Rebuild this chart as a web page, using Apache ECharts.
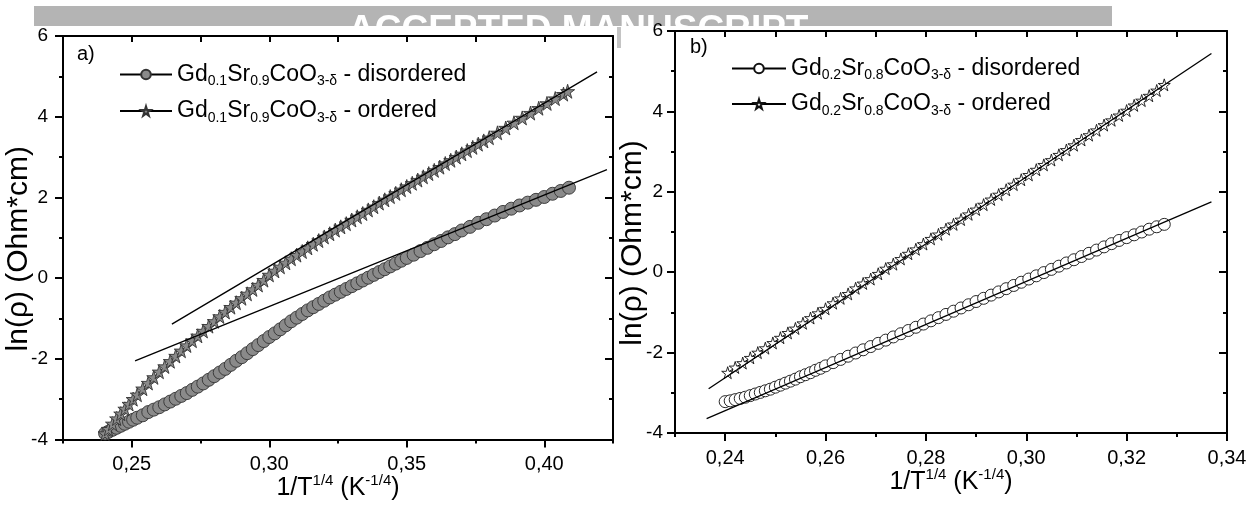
<!DOCTYPE html>
<html>
<head>
<meta charset="utf-8">
<script src="https://cdn.jsdelivr.net/npm/echarts@6/dist/echarts.min.js"></script>
<style>
  html, body { margin: 0; padding: 0; background: #fff; }
  #chart { width: 1251px; height: 506px; }
</style>
</head>
<body>
<div id="chart"></div>
<script>
// ---- panel a) Gd0.1Sr0.9CoO3-δ : ln(rho) vs T^-1/4 ----
const disorderedA = [
  [0.2403,-3.85],[0.2415,-3.81],[0.2430,-3.76],[0.2445,-3.71],[0.2460,-3.66],[0.2475,-3.61],
  [0.2490,-3.56],[0.2505,-3.51],[0.2520,-3.46],[0.2540,-3.40],[0.2560,-3.32],[0.2580,-3.26],
  [0.2600,-3.20],[0.2620,-3.13],[0.2640,-3.06],[0.2660,-2.99],[0.2680,-2.92],[0.2700,-2.85],
  [0.2720,-2.77],[0.2740,-2.69],[0.2760,-2.61],[0.2780,-2.52],[0.2800,-2.43],[0.2820,-2.34],
  [0.2840,-2.25],[0.2860,-2.15],[0.2880,-2.05],[0.2900,-1.96],[0.2920,-1.86],[0.2940,-1.76],
  [0.2960,-1.66],[0.2980,-1.56],[0.3000,-1.46],[0.3020,-1.37],[0.3040,-1.27],[0.3060,-1.17],
  [0.3080,-1.07],[0.3100,-0.98],[0.3120,-0.89],[0.3140,-0.80],[0.3160,-0.72],[0.3180,-0.64],
  [0.3200,-0.56],[0.3220,-0.48],[0.3240,-0.41],[0.3260,-0.34],[0.3280,-0.27],[0.3300,-0.20],
  [0.3320,-0.13],[0.3340,-0.06],[0.3360,0.01],[0.3380,0.08],[0.3400,0.15],[0.3420,0.22],
  [0.3440,0.29],[0.3460,0.36],[0.3480,0.43],[0.3500,0.50],[0.3525,0.58],[0.3550,0.67],
  [0.3575,0.75],[0.3600,0.84],[0.3625,0.92],[0.3650,1.01],[0.3675,1.09],[0.3700,1.18],
  [0.3730,1.27],[0.3760,1.37],[0.3790,1.46],[0.3820,1.55],[0.3850,1.64],[0.3880,1.72],
  [0.3910,1.80],[0.3940,1.87],[0.3970,1.94],[0.4000,2.01],[0.4030,2.09],[0.4060,2.16],
  [0.4090,2.24]
];
const orderedA = [
  [0.2403,-3.85],[0.2415,-3.74],[0.2430,-3.61],[0.2445,-3.48],[0.2460,-3.36],[0.2475,-3.24],
  [0.2490,-3.12],[0.2505,-3.00],[0.2520,-2.89],[0.2540,-2.74],[0.2560,-2.60],[0.2580,-2.46],
  [0.2600,-2.32],[0.2620,-2.19],[0.2640,-2.06],[0.2660,-1.93],[0.2680,-1.80],[0.2700,-1.67],
  [0.2720,-1.55],[0.2740,-1.43],[0.2760,-1.31],[0.2780,-1.19],[0.2800,-1.07],[0.2820,-0.95],
  [0.2840,-0.84],[0.2860,-0.72],[0.2880,-0.61],[0.2900,-0.50],[0.2920,-0.39],[0.2940,-0.28],
  [0.2960,-0.17],[0.2980,-0.05],[0.3000,0.08],[0.3020,0.18],[0.3040,0.28],[0.3060,0.38],
  [0.3080,0.48],[0.3100,0.57],[0.3120,0.66],[0.3140,0.75],[0.3160,0.84],[0.3180,0.93],
  [0.3200,1.02],[0.3220,1.10],[0.3240,1.19],[0.3260,1.27],[0.3280,1.35],[0.3300,1.44],
  [0.3320,1.52],[0.3340,1.60],[0.3360,1.69],[0.3380,1.77],[0.3400,1.86],[0.3420,1.94],
  [0.3440,2.02],[0.3460,2.10],[0.3480,2.19],[0.3500,2.27],[0.3520,2.35],[0.3540,2.43],
  [0.3560,2.51],[0.3580,2.59],[0.3600,2.67],[0.3620,2.75],[0.3640,2.84],[0.3660,2.92],
  [0.3680,3.00],[0.3700,3.08],[0.3720,3.16],[0.3740,3.24],[0.3760,3.32],[0.3780,3.40],
  [0.3800,3.48],[0.3830,3.60],[0.3860,3.72],[0.3890,3.85],[0.3920,3.97],[0.3950,4.09],
  [0.3980,4.21],[0.4010,4.33],[0.4040,4.45],[0.4070,4.56],[0.4085,4.63]
];
// straight-line fits (end points)
const fitDisorderedA = [[0.2512,-2.05],[0.4228,2.69]];
const fitOrderedA    = [[0.2646,-1.14],[0.4192,5.11]];

// ---- panel b) Gd0.2Sr0.8CoO3-δ ----
const disorderedB = [
  [0.2400,-3.22],[0.2410,-3.20],[0.2420,-3.17],[0.2430,-3.14],[0.2440,-3.11],[0.2450,-3.07],
  [0.2460,-3.03],[0.2470,-2.99],[0.2480,-2.95],[0.2490,-2.91],[0.2500,-2.86],[0.2510,-2.81],
  [0.2520,-2.76],[0.2530,-2.71],[0.2540,-2.66],[0.2550,-2.60],[0.2560,-2.55],[0.2570,-2.50],
  [0.2580,-2.44],[0.2590,-2.39],[0.2600,-2.33],[0.2615,-2.25],[0.2630,-2.17],[0.2645,-2.09],
  [0.2660,-2.01],[0.2675,-1.93],[0.2690,-1.85],[0.2705,-1.77],[0.2720,-1.69],[0.2735,-1.61],
  [0.2750,-1.53],[0.2765,-1.45],[0.2780,-1.37],[0.2795,-1.29],[0.2810,-1.21],[0.2825,-1.13],
  [0.2840,-1.05],[0.2855,-0.97],[0.2870,-0.89],[0.2885,-0.81],[0.2900,-0.73],[0.2915,-0.65],
  [0.2930,-0.57],[0.2945,-0.49],[0.2960,-0.41],[0.2975,-0.33],[0.2990,-0.25],[0.3005,-0.17],
  [0.3020,-0.09],[0.3035,-0.01],[0.3050,0.07],[0.3065,0.15],[0.3080,0.23],[0.3095,0.31],
  [0.3110,0.39],[0.3125,0.47],[0.3140,0.55],[0.3155,0.63],[0.3170,0.71],[0.3185,0.79],
  [0.3200,0.86],[0.3215,0.93],[0.3230,1.00],[0.3245,1.07],[0.3260,1.13],[0.3275,1.19]
];
const orderedB = [
  [0.2405,-2.50],[0.2420,-2.37],[0.2435,-2.26],[0.2450,-2.13],[0.2465,-2.00],[0.2480,-1.89],
  [0.2495,-1.76],[0.2510,-1.63],[0.2525,-1.51],[0.2540,-1.40],[0.2555,-1.27],[0.2570,-1.14],
  [0.2585,-1.02],[0.2600,-0.91],[0.2615,-0.77],[0.2630,-0.65],[0.2645,-0.54],[0.2660,-0.40],
  [0.2675,-0.28],[0.2690,-0.17],[0.2705,-0.04],[0.2720,0.09],[0.2735,0.20],[0.2750,0.33],
  [0.2765,0.46],[0.2780,0.57],[0.2795,0.70],[0.2810,0.83],[0.2825,0.94],[0.2840,1.07],
  [0.2855,1.19],[0.2870,1.31],[0.2885,1.44],[0.2900,1.56],[0.2915,1.68],[0.2930,1.81],
  [0.2945,1.93],[0.2960,2.05],[0.2975,2.18],[0.2990,2.30],[0.3005,2.42],[0.3020,2.55],
  [0.3035,2.67],[0.3050,2.79],[0.3065,2.92],[0.3080,3.04],[0.3095,3.16],[0.3110,3.29],
  [0.3125,3.41],[0.3140,3.53],[0.3155,3.66],[0.3170,3.78],[0.3185,3.90],[0.3200,4.02],
  [0.3215,4.15],[0.3230,4.27],[0.3245,4.39],[0.3260,4.52],[0.3275,4.66]
];
const fitDisorderedB = [[0.2363,-3.64],[0.3369,1.75]];
const fitOrderedB    = [[0.2367,-2.90],[0.3369,5.44]];

// ---- axis ticks / labels ----
const xMajorA = [0.25, 0.30, 0.35, 0.40];
const xMinorA = [0.225, 0.275, 0.325, 0.375, 0.425];
const xMajorB = [0.24, 0.26, 0.28, 0.30, 0.32, 0.34];
const xMinorB = [0.23, 0.25, 0.27, 0.29, 0.31, 0.33];

// ---- legend texts (main / subscript fragments) ----
const nameDisA = 'Gd0.1Sr0.9CoO3-δ - disordered';
const nameOrdA = 'Gd0.1Sr0.9CoO3-δ - ordered';
const nameDisB = 'Gd0.2Sr0.8CoO3-δ - disordered';
const nameOrdB = 'Gd0.2Sr0.8CoO3-δ - ordered';
const legendParts = {
  [nameDisA]: ['Gd', '0.1', 'Sr', '0.9', 'CoO', '3-δ', ' - disordered'],
  [nameOrdA]: ['Gd', '0.1', 'Sr', '0.9', 'CoO', '3-δ', ' - ordered'],
  [nameDisB]: ['Gd', '0.2', 'Sr', '0.8', 'CoO', '3-δ', ' - disordered'],
  [nameOrdB]: ['Gd', '0.2', 'Sr', '0.8', 'CoO', '3-δ', ' - ordered']
};

const FONT = "'Liberation Sans', Arial, sans-serif";
const STAR = 'path://M50,0 L61,35 L98,35 L68,57 L79,91 L50,70 L21,91 L32,57 L2,35 L39,35 Z';
const BLACK = '#000';

function legendFormatter(name) {
  const p = legendParts[name];
  return '{m|' + p[0] + '}{s|' + p[1] + '}{m|' + p[2] + '}{s|' + p[3] + '}{m|' + p[4] + '}{s|' + p[5] + '}{m|' + p[6] + '}';
}
const legendRich = {
  m: { fontSize: 23, lineHeight: 28, fontFamily: FONT, color: BLACK },
  s: { fontSize: 14, lineHeight: 12, fontFamily: FONT, color: BLACK, verticalAlign: 'bottom' }
};
const xNameRich = {
  m: { fontSize: 25, lineHeight: 30, fontFamily: FONT, color: BLACK },
  p: { fontSize: 15, lineHeight: 15, fontFamily: FONT, color: BLACK, verticalAlign: 'top' }
};
const xName = '{m|1/T}{p|1/4}{m| (K}{p|-1/4}{m|)}';

function fmtX(v) { return v.toFixed(2).replace('.', ','); }

const axisLine = { show: true, onZero: false, lineStyle: { color: BLACK, width: 2 } };
const xLabelStyle = { color: BLACK, fontSize: 20, fontFamily: FONT };
const yLabelStyle = { color: BLACK, fontSize: 19, fontFamily: FONT };

function xAxesFor(grid, min, max, majors, minors, step, gap) {
  return [
    { // bottom axis with major ticks + labels
      type: 'value', gridIndex: grid, position: 'bottom', min: min, max: max,
      axisLine: axisLine,
      axisTick: { show: true, customValues: majors, length: 8, lineStyle: { color: BLACK, width: 2 } },
      axisLabel: Object.assign({ customValues: majors, margin: 15, formatter: fmtX }, xLabelStyle),
      splitLine: { show: false },
      name: xName, nameLocation: 'middle', nameGap: gap, nameMoveOverlap: false,
      nameTextStyle: { rich: xNameRich }
    },
    { // bottom minor ticks
      type: 'value', gridIndex: grid, position: 'bottom', min: min, max: max,
      axisLine: { show: false, onZero: false },
      axisTick: { show: true, customValues: minors, length: 4, lineStyle: { color: BLACK, width: 2 } },
      axisLabel: { show: false }, splitLine: { show: false }
    },
    { // top frame, inward ticks
      type: 'value', gridIndex: grid, position: 'top', min: min, max: max, interval: step,
      axisLine: axisLine,
      axisTick: { show: true, inside: true, length: 6, lineStyle: { color: BLACK, width: 2 } },
      axisLabel: { show: false }, splitLine: { show: false }
    }
  ];
}
function yAxesFor(grid, nameGap, labelMargin) {
  return [
    {
      type: 'value', gridIndex: grid, position: 'left', min: -4, max: 6, interval: 2,
      axisLine: axisLine,
      axisTick: { show: true, length: 8, lineStyle: { color: BLACK, width: 2 } },
      minorTick: { show: true, splitNumber: 2, length: 4, lineStyle: { color: BLACK, width: 2 } },
      axisLabel: Object.assign({ margin: labelMargin }, yLabelStyle),
      splitLine: { show: false }, minorSplitLine: { show: false },
      name: 'ln(ρ) (Ohm*cm)', nameLocation: 'middle', nameGap: nameGap, nameRotate: 90,
      nameMoveOverlap: false,
      nameTextStyle: { color: BLACK, fontSize: 30, fontFamily: FONT, padding: [0, 22, 0, 0] }
    },
    {
      type: 'value', gridIndex: grid, position: 'right', min: -4, max: 6, interval: 2,
      axisLine: axisLine,
      axisTick: { show: true, inside: true, length: 8, lineStyle: { color: BLACK, width: 2 } },
      minorTick: { show: true, splitNumber: 2, length: 4, lineStyle: { color: BLACK, width: 2 } },
      axisLabel: { show: false }, splitLine: { show: false }, minorSplitLine: { show: false }
    }
  ];
}

function dataSeries(name, data, xi, yi, symbol, size, fill, border) {
  return {
    name: name, type: 'line', xAxisIndex: xi, yAxisIndex: yi, data: data,
    symbol: symbol, symbolSize: size, showSymbol: true, showAllSymbol: true,
    lineStyle: { color: BLACK, width: 1 },
    itemStyle: { color: fill, borderColor: border, borderWidth: 0.9 },
    z: 2, animation: false, silent: true
  };
}
function fitSeries(data, xi, yi) {
  return {
    type: 'line', xAxisIndex: xi, yAxisIndex: yi, data: data, symbol: 'none',
    lineStyle: { color: BLACK, width: 1.3 }, z: 5, animation: false, silent: true
  };
}

const chart = echarts.init(document.getElementById('chart'), null, { renderer: 'canvas' });
chart.setOption({
  backgroundColor: '#fff',
  animation: false,
  grid: [
    { left: 63, top: 36, width: 550, height: 405 },
    { left: 675, top: 31, width: 552, height: 402 }
  ],
  xAxis: [].concat(
    xAxesFor(0, 0.225, 0.425, xMajorA, xMinorA, 0.025, 34),
    xAxesFor(1, 0.23, 0.34, xMajorB, xMinorB, 0.01, 34)
  ),
  yAxis: [].concat(yAxesFor(0, 29, 15), yAxesFor(1, 27, 12)),
  legend: [
    {
      left: 114, top: 58, orient: 'vertical', itemWidth: 52, itemHeight: 12, itemGap: 11,
      data: [nameDisA, nameOrdA], formatter: legendFormatter,
      textStyle: { rich: legendRich }, selectedMode: false
    },
    {
      left: 726, top: 52, orient: 'vertical', itemWidth: 54, itemHeight: 12, itemGap: 10,
      data: [nameDisB, nameOrdB], formatter: legendFormatter,
      textStyle: { rich: legendRich }, selectedMode: false
    }
  ],
  graphic: [
    { type: 'rect', shape: { x: 34, y: 6, width: 1078, height: 20 }, style: { fill: '#b4b4b4' }, z: -10 },
    { type: 'text', x: 348, y: 12, z: -9,
      style: { text: 'ACCEPTED MANUSCRIPT', fill: '#fff', font: "bold 37px 'Liberation Sans', Arial, sans-serif", textVerticalAlign: 'top' } },
    { type: 'rect', shape: { x: 617, y: 27, width: 4, height: 21 }, style: { fill: '#c4c4c4' }, z: -8 },
    { type: 'text', x: 77, y: 44, style: { text: 'a)', fill: BLACK, font: "20px 'Liberation Sans', Arial, sans-serif" } },
    { type: 'text', x: 690, y: 37, style: { text: 'b)', fill: BLACK, font: "20px 'Liberation Sans', Arial, sans-serif" } }
  ],
  series: [
    dataSeries(nameDisA, disorderedA, 0, 0, 'circle', 13, '#8a8a8a', '#333'),
    dataSeries(nameOrdA, orderedA, 0, 0, STAR, 14, '#8a8a8a', '#333'),
    fitSeries(fitDisorderedA, 0, 0),
    fitSeries(fitOrderedA, 0, 0),
    dataSeries(nameDisB, disorderedB, 3, 2, 'circle', 12, '#fff', '#111'),
    dataSeries(nameOrdB, orderedB, 3, 2, STAR, 12, '#fff', '#111'),
    fitSeries(fitDisorderedB, 3, 2),
    fitSeries(fitOrderedB, 3, 2)
  ]
});
</script>
</body>
</html>
